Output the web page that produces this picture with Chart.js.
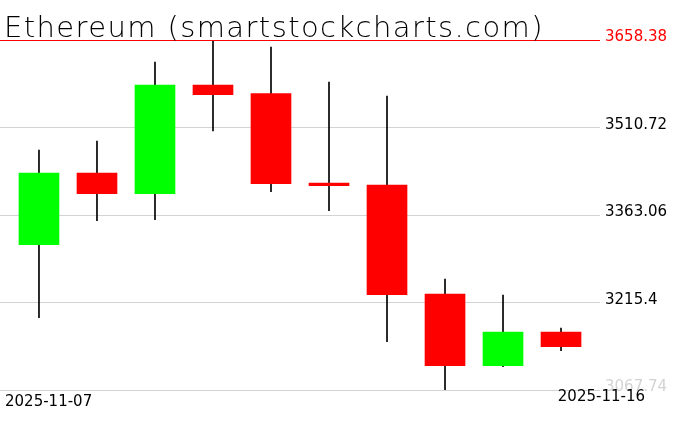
<!DOCTYPE html>
<html>
<head>
<meta charset="utf-8">
<script src="https://cdn.jsdelivr.net/npm/chart.js@4.4.1/dist/chart.umd.min.js"></script>
<style>
  html, body { margin: 0; padding: 0; background: #fff; }
  #wrap { width: 676px; height: 431px; }
</style>
</head>
<body>
<div id="wrap"><canvas id="ethChart" width="676" height="431"></canvas></div>
<script>
// Daily OHLC for Ethereum
const dates  = ['2025-11-07', '2025-11-08', '2025-11-09', '2025-11-10', '2025-11-11',
                '2025-11-12', '2025-11-13', '2025-11-14', '2025-11-15', '2025-11-16'];
const opens  = [3312.9, 3433.9, 3399.0, 3582.4, 3567.8, 3417.1, 3413.7, 3229.7, 3108.8, 3165.6];
const highs  = [3472.7, 3487.9, 3621.3, 3658.38, 3646.6, 3587.5, 3563.9, 3255.1, 3228.1, 3172.4];
const lows   = [3189.8, 3353.5, 3355.1, 3504.8, 3402.4, 3370.3, 3149.3, 3067.74, 3107.1, 3134.1];
const closes = [3433.9, 3399.0, 3582.4, 3566.1, 3415.9, 3412.5, 3228.6, 3108.8, 3165.6, 3140.8];

// Price axis ticks (range split in quarters)
const yTicks = [3067.74, 3215.4, 3363.06, 3510.72, 3658.38];
const yTickLabels = ['3067.74', '3215.4', '3363.06', '3510.72', '3658.38'];
const markLevel = 3658.38; // red line

const chartTitle = 'Ethereum (smartstockcharts.com)';

const bodies = dates.map((d, i) => ({ x: i, y: [opens[i], closes[i]] }));
const wicks = dates.map((d, i) => ({ x: i, y: [lows[i], highs[i]] }));
const bodyColors = dates.map((d, i) => closes[i] >= opens[i] ? '#00ff00' : '#ff0000');

// Labels, red line and title drawn on top of the chart
const overlay = {
    id: 'overlay',
    afterDraw(chart) {
        const ctx = chart.ctx;
        const y = chart.scales.y;
        const area = chart.chartArea;
        ctx.save();

        // red marker line
        const ry = Math.round(y.getPixelForValue(markLevel)) + 0.5;
        ctx.strokeStyle = '#ff0000';
        ctx.lineWidth = 1;
        ctx.beginPath();
        ctx.moveTo(area.left, ry);
        ctx.lineTo(area.right, ry);
        ctx.stroke();

        // price labels on the right
        ctx.font = '15px "DejaVu Sans"';
        ctx.textBaseline = 'alphabetic';
        ctx.textAlign = 'left';
        yTicks.forEach((v, i) => {
            if (v === markLevel) ctx.fillStyle = '#ff0000';
            else if (i === 0) ctx.fillStyle = '#d3d3d3';
            else ctx.fillStyle = '#000000';
            ctx.fillText(yTickLabels[i], area.right + 5, y.getPixelForValue(v) + 1);
        });

        // first and last date
        ctx.fillStyle = '#000000';
        ctx.fillText(dates[0], 5, 406);
        ctx.textAlign = 'right';
        ctx.fillText(dates[dates.length - 1], 645, 401);

        // title
        ctx.textAlign = 'left';
        ctx.font = '200 29px "DejaVu Sans"';
        ctx.letterSpacing = '1.4px';
        ctx.fillText(chartTitle, 4, 37);
        ctx.restore();
    }
};

const ctx = document.getElementById('ethChart').getContext('2d');
const ethChart = new Chart(ctx, {
    type: 'bar',
    data: {
        datasets: [
            {
                label: 'Body',
                data: bodies,
                backgroundColor: bodyColors,
                borderWidth: 0,
                barThickness: 40,
                grouped: false
            },
            {
                label: 'Wick',
                data: wicks,
                backgroundColor: '#000000',
                borderWidth: 0,
                barThickness: 1,
                grouped: false
            }
        ]
    },
    options: {
        responsive: false,
        animation: false,
        layout: {
            padding: { top: 40, bottom: 41, left: 0, right: 76 }
        },
        scales: {
            x: {
                type: 'linear',
                display: false,
                offset: false,
                min: -0.672,
                max: 9.672
            },
            y: {
                position: 'right',
                min: 3067.74,
                max: 3658.38,
                afterBuildTicks: scale => {
                    scale.ticks = yTicks.map(v => ({ value: v }));
                },
                afterFit: scale => {
                    scale.width = 0;
                },
                ticks: { display: false },
                border: { display: false },
                grid: {
                    color: '#d3d3d3',
                    drawTicks: false
                }
            }
        },
        plugins: {
            legend: { display: false },
            tooltip: { enabled: false }
        }
    },
    plugins: [overlay]
});
</script>
</body>
</html>
